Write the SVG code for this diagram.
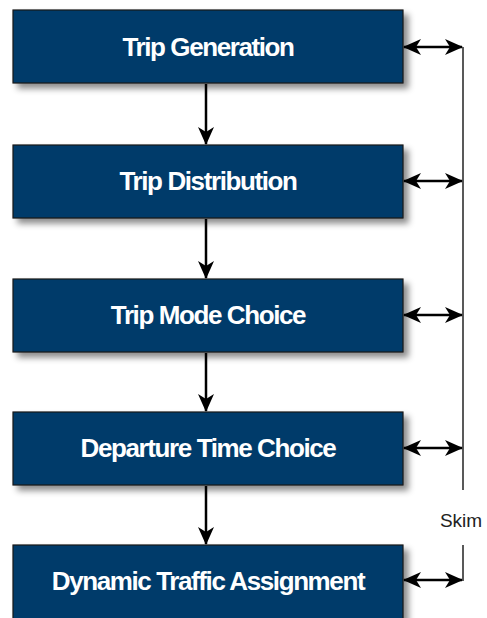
<svg xmlns="http://www.w3.org/2000/svg" width="487" height="618" viewBox="0 0 487 618">
<style>
.box{fill:#023b6a;stroke:#1a1a1a;stroke-width:1.2;filter:url(#sh)}
.lbl{font-family:"Liberation Sans",Arial,sans-serif;font-weight:bold;font-size:26px;fill:#fff;text-anchor:middle;letter-spacing:-1.4px}
.ln{stroke:#000;stroke-width:2.5;fill:none}
.skl{stroke:#222;stroke-width:1.5;fill:none}
</style>
<defs>
<filter id="sh" x="-10%" y="-20%" width="125%" height="160%">
<feDropShadow dx="5" dy="5" stdDeviation="3" flood-color="#000" flood-opacity="0.45"/>
</filter>
<marker id="ah" viewBox="0 0 18 16" refX="17" refY="8" markerWidth="18" markerHeight="16" markerUnits="userSpaceOnUse" orient="auto-start-reverse">
<path d="M0,0 L18,8 L0,16 L5,8 Z" fill="#000"/>
</marker>
</defs>
<g id="n1"><rect class="box" x="13" y="10" width="390" height="73"/><text class="lbl" x="208" y="56">Trip Generation</text></g>
<g id="n2"><rect class="box" x="13" y="145" width="390" height="73"/><text class="lbl" x="208" y="190">Trip Distribution</text></g>
<g id="n3"><rect class="box" x="13" y="279" width="390" height="73"/><text class="lbl" x="208" y="324">Trip Mode Choice</text></g>
<g id="n4"><rect class="box" x="13" y="412" width="390" height="73"/><text class="lbl" x="208" y="457">Departure Time Choice</text></g>
<g id="n5"><rect class="box" x="13" y="545" width="390" height="80"/><text class="lbl" x="208" y="590">Dynamic Traffic Assignment</text></g>
<g id="connectors">
<line class="ln" x1="206" y1="84" x2="206" y2="144" marker-end="url(#ah)"/>
<line class="ln" x1="206" y1="219" x2="206" y2="278" marker-end="url(#ah)"/>
<line class="ln" x1="206" y1="353" x2="206" y2="411" marker-end="url(#ah)"/>
<line class="ln" x1="206" y1="486" x2="206" y2="544" marker-end="url(#ah)"/>
<line class="ln" x1="404" y1="47" x2="462" y2="47" marker-start="url(#ah)" marker-end="url(#ah)"/>
<line class="ln" x1="404" y1="181" x2="462" y2="181" marker-start="url(#ah)" marker-end="url(#ah)"/>
<line class="ln" x1="404" y1="315" x2="462" y2="315" marker-start="url(#ah)" marker-end="url(#ah)"/>
<line class="ln" x1="404" y1="448" x2="462" y2="448" marker-start="url(#ah)" marker-end="url(#ah)"/>
<line class="ln" x1="404" y1="580" x2="462" y2="580" marker-start="url(#ah)" marker-end="url(#ah)"/>
<polyline class="skl" points="463,47 463,490"/>
<polyline class="skl" points="463,545 463,581"/>
</g>
<text x="461" y="527" font-family="Liberation Sans,Arial,sans-serif" font-size="19" fill="#222" text-anchor="middle">Skim</text>
</svg>
